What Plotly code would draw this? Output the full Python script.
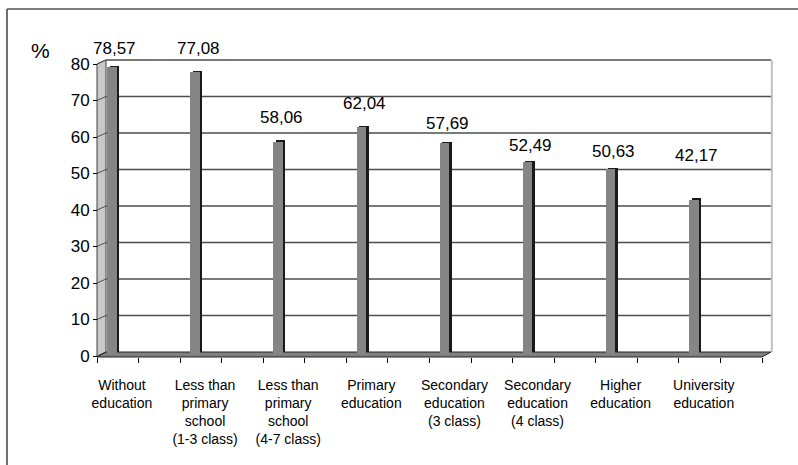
import plotly.graph_objects as go

# ---- data ----
categories = [
    "Without<br>education",
    "Less than<br>primary<br>school<br>(1-3 class)",
    "Less than<br>primary<br>school<br>(4-7 class)",
    "Primary<br>education",
    "Secondary<br>education<br>(3 class)",
    "Secondary<br>education<br>(4 class)",
    "Higher<br>education",
    "University<br>education",
]
values = [78.57, 77.08, 58.06, 62.04, 57.69, 52.49, 50.63, 42.17]
y_tick_values = [0, 10, 20, 30, 40, 50, 60, 70, 80]
unit_label = "%"

# ---- geometry (pixels) ----
W, H = 798, 465
L, R, T, B = 90, 790, 40, 372          # plotting rectangle
X0, SX = 97.0, 41.5625                  # front plane: pixel of slot 0, pixels per slot
Y0, SY = 356.0, 3.65                    # front plane: pixel of 0 %, pixels per percent
DEPTH_X, DEPTH_Y = 9.0, 4.0             # offset of the back wall
BAR_PLANE = 353.7                       # pixel row where the columns stand
SLOTS = 2 * len(categories)

DX = DEPTH_X / SX
DY = DEPTH_Y / SY
FONT = "Arial, 'Liberation Sans', sans-serif"


def px_x(p):
    return (p - L) / (R - L)


def px_y(p):
    return (B - p) / (B - T)


def y_range(zero_px):
    return [(zero_px - B) / SY, (zero_px - T) / SY]


x_range = [(L - X0) / SX, (R - X0) / SX]

face_w = 9.5 / SX
bar_left = 0.245
x_face = [2 * i + bar_left + face_w / 2 for i in range(len(values))]
x_side = [x + 2.5 / SX for x in x_face]
label_pos = [2 * i + 0.6 for i in range(len(categories))]
label_lift = [18, 24, 24, 24, 20, 17, 17, 44]

fig = go.Figure()

# dark shadow gives each column its side and top faces (drawn first, on yaxis2)
fig.add_trace(go.Bar(
    x=x_side, y=values, width=face_w, yaxis="y2",
    marker=dict(color="#1a1a1a", line=dict(width=0)),
    hoverinfo="skip", showlegend=False,
))
# front face of each column (yaxis3 sits above yaxis2)
fig.add_trace(go.Bar(
    x=x_face, y=values, width=face_w, yaxis="y3",
    marker=dict(color="#858585", line=dict(width=0)),
    showlegend=False,
))

shapes = []
grid_col = "#4d4d4d"

# left side wall
shapes.append(dict(
    type="path", xref="x", yref="y", layer="below",
    path=f"M 0,0 L 0,80 L {DX},{80 + DY} L {DX},{DY} Z",
    fillcolor="#c8c8c8", line=dict(color="#404040", width=1),
))
# floor slab
fb = (Y0 - 357.0) / SY
shapes.append(dict(
    type="path", xref="x", yref="y", layer="below",
    path=f"M 0,{fb} L {SLOTS},{fb} L {SLOTS + DX},{DY} L {DX},{DY} Z",
    fillcolor="#808080", line=dict(color="#222222", width=1),
))
# back-wall gridlines and their continuation across the side wall
for v in y_tick_values[1:]:
    shapes.append(dict(type="line", xref="x", yref="y", layer="below",
                       x0=DX, x1=SLOTS + DX, y0=v + DY, y1=v + DY,
                       line=dict(color=grid_col, width=1.6)))
    shapes.append(dict(type="line", xref="x", yref="y", layer="below",
                       x0=0, x1=DX, y0=v, y1=v + DY,
                       line=dict(color=grid_col, width=1)))
# right edge of the back wall
shapes.append(dict(type="line", xref="x", yref="y", layer="below",
                   x0=SLOTS + DX + 0.02, x1=SLOTS + DX + 0.02, y0=DY, y1=80 + DY,
                   line=dict(color="#c0c0c0", width=2)))
# outer frame of the chart area
shapes.append(dict(type="line", xref="paper", yref="paper",
                   x0=px_x(7), x1=px_x(7), y0=px_y(9), y1=px_y(470),
                   line=dict(color="#404040", width=1.5)))
shapes.append(dict(type="line", xref="paper", yref="paper",
                   x0=px_x(7), x1=px_x(805), y0=px_y(9), y1=px_y(9),
                   line=dict(color="#505050", width=1.5)))

annotations = []
for x, v, lift in zip(x_face, values, label_lift):
    annotations.append(dict(
        x=x, y=v, xref="x", yref="y3", xshift=3, yshift=lift,
        text=f"{v:.2f}".replace(".", ","), showarrow=False,
        xanchor="center", yanchor="middle",
        font=dict(family=FONT, size=17, color="black"),
    ))
annotations.append(dict(
    x=px_x(41), y=px_y(51), xref="paper", yref="paper",
    text=unit_label, showarrow=False, xanchor="center", yanchor="middle",
    font=dict(family=FONT, size=21, color="black"),
))

fig.update_layout(
    width=W, height=H,
    margin=dict(l=L, r=W - R, t=T, b=H - B),
    paper_bgcolor="white", plot_bgcolor="white",
    barmode="overlay", bargap=0,
    showlegend=False,
    font=dict(family=FONT, color="black"),
    shapes=shapes, annotations=annotations,
    xaxis=dict(
        range=x_range, domain=[0, 1], anchor="free", position=px_y(357),
        showgrid=False, zeroline=False, showline=False,
        tickmode="array", tickvals=label_pos, ticktext=categories,
        ticks="outside", ticklen=15, tickcolor="rgba(0,0,0,0)", tickangle=0,
        tickfont=dict(family=FONT, size=14, color="black"),
        minor=dict(tickmode="array", tickvals=list(range(SLOTS + 1)),
                   ticks="outside", ticklen=5, tickwidth=1, tickcolor="black"),
    ),
    yaxis=dict(
        range=y_range(Y0), domain=[0, 1], anchor="free", position=px_x(X0),
        showgrid=False, zeroline=False, showline=False,
        tickmode="array", tickvals=y_tick_values,
        ticks="outside", ticklen=4, tickwidth=1, tickcolor="black",
        tickfont=dict(family=FONT, size=17, color="black"),
    ),
    yaxis2=dict(range=y_range(BAR_PLANE - 1.3), overlaying="y", visible=False),
    yaxis3=dict(range=y_range(BAR_PLANE), overlaying="y", visible=False),
)

fig.write_html("out.html")
